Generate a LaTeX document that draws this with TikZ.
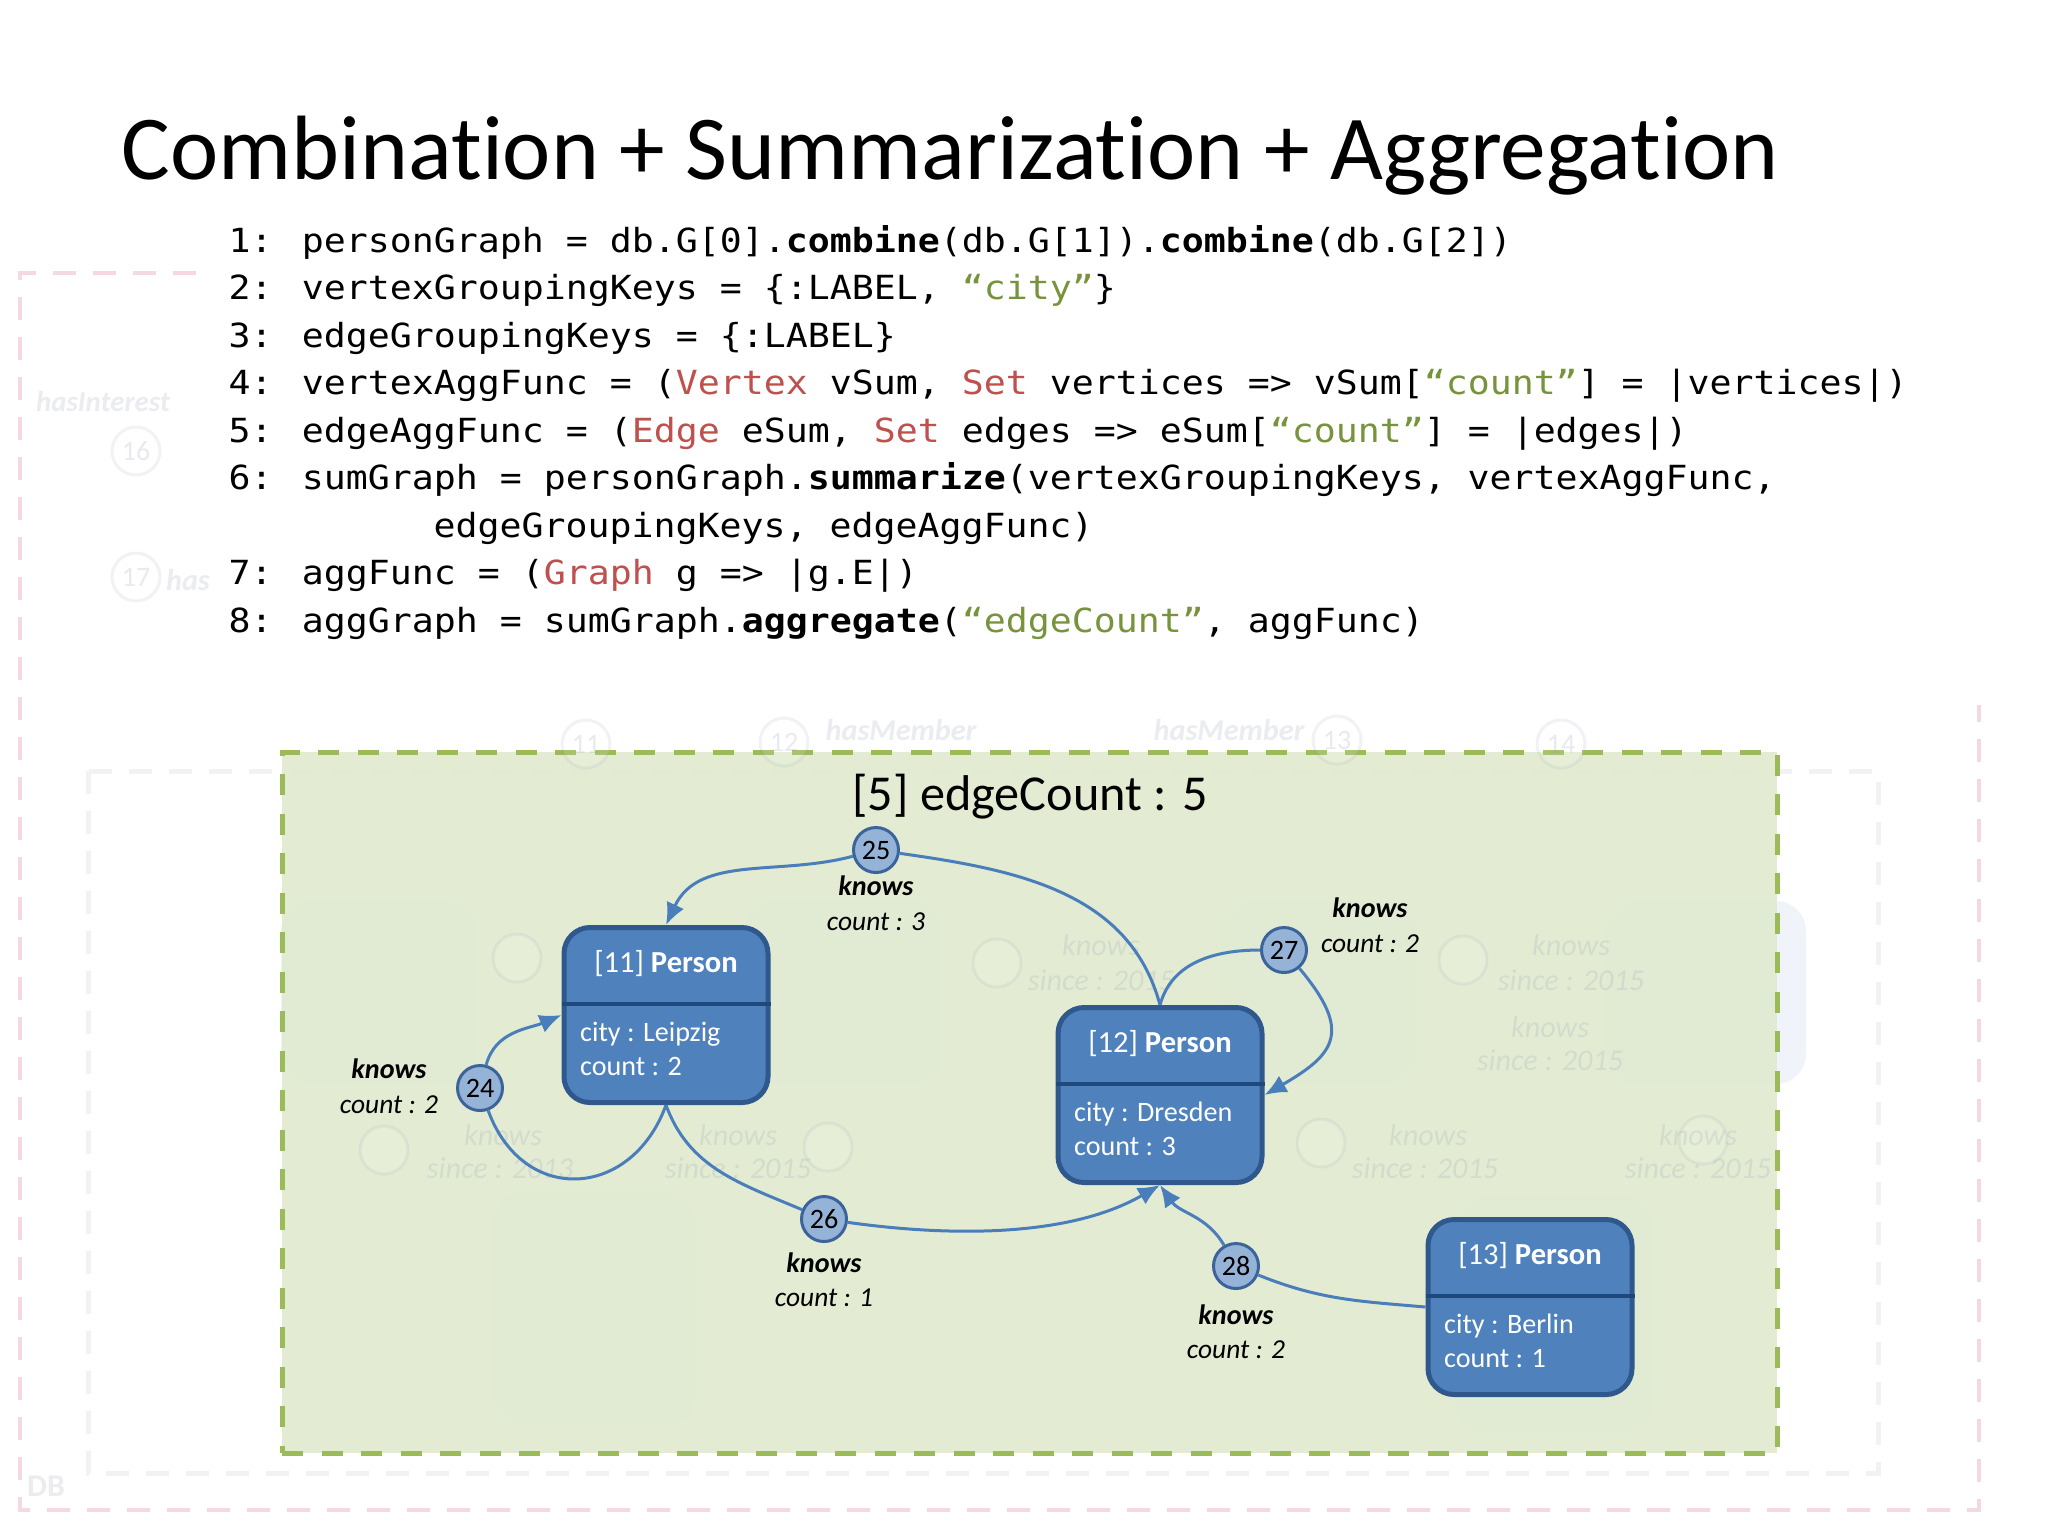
\documentclass[tikz,border=0pt]{standalone}
\usepackage{fontspec}
\setmainfont{Carlito}[Ligatures=NoCommon,RawFeature={-liga;-clig}]
\newfontfamily\codefont{DejaVu Sans Mono}[FakeStretch=1.1]
\usetikzlibrary{arrows.meta,calc}
\definecolor{boxfill}{RGB}{79,129,189}
\definecolor{boxline}{RGB}{47,88,140}
\definecolor{divline}{RGB}{31,73,125}
\definecolor{circfill}{RGB}{149,179,215}
\definecolor{circline}{RGB}{60,100,155}
\definecolor{edgeblue}{RGB}{74,126,187}
\definecolor{grfill}{RGB}{224,234,207}
\definecolor{grline}{RGB}{155,187,89}
\definecolor{kwred}{RGB}{192,80,77}
\definecolor{strgreen}{RGB}{119,147,60}
\definecolor{pinkd}{RGB}{246,216,224}
\definecolor{greyd}{RGB}{242,242,244}
\definecolor{ghost}{RGB}{140,150,175}
\definecolor{ghostbox}{RGB}{240,243,250}
\begin{document}
\begin{tikzpicture}[x=0.1mm,y=-0.1mm,
  person/.style={draw=boxline, fill=boxfill, line width=0.5mm, rounded corners=2.6mm,
    minimum width=20.4mm, minimum height=17.5mm, inner sep=0pt},
  divider/.style={draw=divline, line width=0.35mm},
  ptitle/.style={text=white, font=\fontsize{8.7pt}{10pt}\selectfont, anchor=base, inner sep=0pt},
  pbody/.style={text=white, font=\fontsize{8pt}{10pt}\selectfont, anchor=base west, inner sep=0pt},
  ecirc/.style={circle, draw=circline, fill=circfill, line width=0.3mm, minimum size=4.5mm,
    inner sep=0pt, font=\fontsize{8pt}{9pt}\selectfont},
  conn/.style={draw=edgeblue, line width=0.3mm},
  arr/.style={-{Latex[length=2.2mm,width=1.9mm]}},
  elabA/.style={anchor=base, inner sep=0pt, font=\fontsize{8pt}{9pt}\selectfont\bfseries\itshape},
  elabB/.style={anchor=base, inner sep=0pt, font=\fontsize{7.8pt}{9pt}\selectfont\itshape},
  codeline/.style={anchor=base west, inner sep=0pt, font=\codefont\fontsize{9.45pt}{11pt}\selectfont},
  ghostbx/.style={fill=ghostbox, rounded corners=3mm},
  ghosttxt/.style={text=ghost, text opacity=0.18, inner sep=0pt, font=\fontsize{8.6pt}{10pt}\selectfont\itshape},
  ghostcirc/.style={circle, draw=ghost, fill=white, draw opacity=0.12, fill opacity=0.12, line width=0.3mm,
    minimum size=4.8mm, inner sep=0pt, text=ghost, text opacity=0.2, font=\fontsize{8pt}{9pt}\selectfont}
]
\useasboundingbox (0,0) rectangle (2048,1536);
\fill[white] (0,0) rectangle (2048,1536);

% ---- faded background diagram ----
\draw[pinkd, line width=0.45mm, dash pattern=on 2.3mm off 1.7mm] (196,273) -- (20,273) -- (20,1510) -- (1979,1510) -- (1979,705);
\draw[greyd, line width=0.5mm, dash pattern=on 2.3mm off 1.7mm] (88,771) rectangle (1878,1473);
\fill[ghostbx] (281,901) rectangle (477,1084);
\fill[ghostbx] (744,901) rectangle (943,1084);
\fill[ghostbx] (1221,901) rectangle (1417,1084);
\fill[ghostbx] (1606,901) rectangle (1806,1084);
\fill[ghostbx] (494,1191) rectangle (696,1426);
\fill[ghostbx] (1455,1197) rectangle (1655,1433);

\node[ghosttxt, font=\fontsize{8.2pt}{10pt}\selectfont\bfseries\itshape] (gHI) at (103,401) {hasInterest};
\node[ghostcirc] (g16) at (136,451) {16};
\node[ghostcirc] (g17) at (136,577) {17};
\node[ghosttxt, font=\fontsize{8.6pt}{10pt}\selectfont\bfseries\itshape] (ghas) at (188,580) {has};
\node[ghosttxt, font=\fontsize{9pt}{10pt}\selectfont\bfseries] (gDB) at (46,1486) {DB};

% ---- summary graph frame ----
\node[draw=grline, line width=0.5mm, dash pattern=on 2.1mm off 1.85mm, fill=grfill, fill opacity=0.9,
  minimum width=149.5mm, minimum height=70.1mm, inner sep=0pt] (frame) at (1029.5,1102.5) {};

\node[ghosttxt, font=\fontsize{8.6pt}{10pt}\selectfont\bfseries\itshape] (gHM1) at (901,730) {hasMember};
\node[ghosttxt, font=\fontsize{8.6pt}{10pt}\selectfont\bfseries\itshape] (gHM2) at (1229,730) {hasMember};
\node[ghostcirc] (g11) at (586,744) {11};
\node[ghostcirc] (g12) at (784,742) {12};
\node[ghostcirc] (g13) at (1337,740) {13};
\node[ghostcirc] (g14) at (1561,744) {14};
\foreach \gx/\gy/\gn in {517/958/a, 384/1150/b, 828/1147/c, 997/963/d, 1463/960/e, 1321/1143/f, 1703/1140/g}
  \node[ghostcirc] (gc\gn) at (\gx,\gy) {};
\foreach \gx/\gy/\gn in {503/1135/a, 738/1135/b, 1428/1135/c, 1698/1135/d, 1550/1027/e, 1101/945/f, 1571/945/g}{
  \node[ghosttxt] (gk\gn) at (\gx,\gy) {knows};
}
\node[ghosttxt] (gsa) at (500,1168) {since : 2013};
\node[ghosttxt] (gsb) at (738,1168) {since : 2015};
\node[ghosttxt] (gsc) at (1425,1168) {since : 2015};
\node[ghosttxt] (gsd) at (1698,1168) {since : 2015};
\node[ghosttxt] (gse) at (1550,1060) {since : 2015};
\node[ghosttxt] (gsf) at (1101,980) {since : 2015};
\node[ghosttxt] (gsg) at (1571,980) {since : 2015};

% ---- title and code ----
\node[anchor=base west, inner sep=0pt, font=\fontsize{26pt}{30pt}\selectfont] (title) at (121,179) {Combination + Summarization + Aggregation};

\node[codeline] (c1) at (228,252) {1: personGraph = db.G[0].\textbf{combine}(db.G[1]).\textbf{combine}(db.G[2])};
\node[codeline] (c2) at (228,299.5) {2: vertexGroupingKeys = \{:LABEL, \textcolor{strgreen}{“city”}\}};
\node[codeline] (c3) at (228,347) {3: edgeGroupingKeys = \{:LABEL\}};
\node[codeline] (c4) at (228,394.5) {4: vertexAggFunc = (\textcolor{kwred}{Vertex} vSum, \textcolor{kwred}{Set} vertices => vSum[\textcolor{strgreen}{“count”}] = |vertices|)};
\node[codeline] (c5) at (228,442) {5: edgeAggFunc = (\textcolor{kwred}{Edge} eSum, \textcolor{kwred}{Set} edges => eSum[\textcolor{strgreen}{“count”}] = |edges|)};
\node[codeline] (c6) at (228,489.5) {6: sumGraph = personGraph.\textbf{summarize}(vertexGroupingKeys, vertexAggFunc,};
\node[codeline] (c6b) at (433,537) {edgeGroupingKeys, edgeAggFunc)};
\node[codeline] (c7) at (228,584.5) {7: aggFunc = (\textcolor{kwred}{Graph} g => |g.E|)};
\node[codeline] (c8) at (228,632) {8: aggGraph = sumGraph.\textbf{aggregate}(\textcolor{strgreen}{“edgeCount”}, aggFunc)};

% ---- graph ----
\node[anchor=base, inner sep=0pt, font=\fontsize{14.3pt}{16pt}\selectfont] (gtitle) at (1030,810) {[5] edgeCount : 5};

\node[person] (p11) at (666,1015) {};
\node[person] (p12) at (1160,1095) {};
\node[person] (p13) at (1530,1307) {};
\foreach \p/\id/\city/\cnt in {p11/11/Leipzig/2, p12/12/Dresden/3, p13/13/Berlin/1}{
  \draw[divider] ([yshift=1.1mm]\p.west) -- ([yshift=1.1mm]\p.east);
  \node[ptitle] (\p h) at ($(\p.north)+(0,47)$) {[\id] \textbf{Person}};
  \node[pbody] (\p c) at ($(\p.north west)+(18,116)$) {city : \city};
  \node[pbody] (\p n) at ($(\p.north west)+(18,150)$) {count : \cnt};
}

\node[ecirc] (e24) at (480,1088) {24};
\node[ecirc] (e25) at (876,850) {25};
\node[ecirc] (e26) at (824,1219) {26};
\node[ecirc] (e27) at (1284,950) {27};
\node[ecirc] (e28) at (1236,1266) {28};

\draw[conn,arr] (e25) to[out=195,in=65] (p11.north);
\draw[conn] (p12.north) to[out=105,in=-8] (e25);
\draw[conn] (p11.south) to[out=-110,in=-70,looseness=1.45] (e24);
\draw[conn,arr] (e24) to[out=75,in=203] (p11.west);
\draw[conn] (p11.south) to[out=-70,in=157] (e26);
\draw[conn,arr] (e26) to[out=-8,in=-150,looseness=0.85] (p12.south);
\draw[conn] (p13.west) to[out=175,in=-22] (e28);
\draw[conn,arr] (e28) to[out=120,in=-55] (p12.south);
\draw[conn] (p12.north) to[out=75,in=180] (e27);
\draw[conn,arr] (e27) to[out=-50,in=30,looseness=1.6] (p12.east);

\node[elabA] (k25) at (876,895) {knows};
\node[elabB] (n25) at (876,930) {count : 3};
\node[elabA] (k24) at (389,1078) {knows};
\node[elabB] (n24) at (389,1113) {count : 2};
\node[elabA] (k26) at (824,1272) {knows};
\node[elabB] (n26) at (824,1306) {count : 1};
\node[elabA] (k27) at (1370,917) {knows};
\node[elabB] (n27) at (1370,952) {count : 2};
\node[elabA] (k28) at (1236,1324) {knows};
\node[elabB] (n28) at (1236,1358) {count : 2};
\end{tikzpicture}
\end{document}
